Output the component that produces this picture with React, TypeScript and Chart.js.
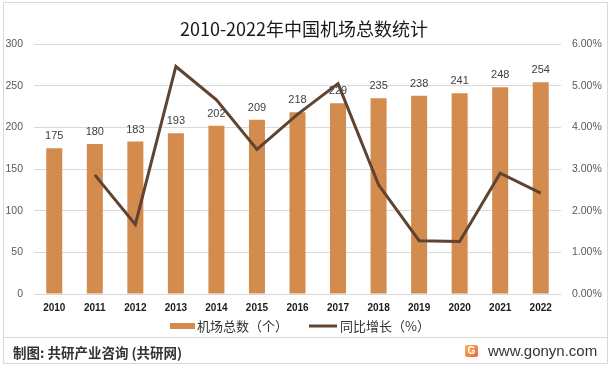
import { useEffect, useRef } from 'react';
import { Chart, registerables } from 'chart.js';

Chart.register(...registerables);

const titleText = '2010-2022年中国机场总数统计';
const categories = ['2010', '2011', '2012', '2013', '2014', '2015', '2016', '2017', '2018', '2019', '2020', '2021', '2022'];
const airportCounts = [175, 180, 183, 193, 202, 209, 218, 229, 235, 238, 241, 248, 254];
const growthRates = [null, 2.86, 1.67, 5.46, 4.66, 3.47, 4.31, 5.05, 2.62, 1.28, 1.26, 2.9, 2.42];
const seriesNames = ['机场总数（个）', '同比增长（%）'];
const sourceText = '制图: 共研产业咨询 (共研网)';
const siteText = 'www.gonyn.com';

const BAR_COLOR = '#D38B4E';
const LINE_COLOR = '#5E4431';
const GRID_COLOR = '#D9D9D9';
const CJK = '"Noto Sans CJK SC", "Noto Sans", sans-serif';
const LAT = '"Liberation Sans", Arial, sans-serif';

const barLabels = {
  id: 'barLabels',
  afterDatasetDraw(chart: any, args: any) {
    if (args.index !== 0) return;
    const ctx = chart.ctx;
    const meta = chart.getDatasetMeta(0);
    ctx.save();
    ctx.font = `11px ${LAT}`;
    ctx.fillStyle = '#404040';
    ctx.textAlign = 'center';
    ctx.textBaseline = 'alphabetic';
    meta.data.forEach((el: any, i: number) => {
      ctx.fillText(String(airportCounts[i]), el.x, el.y - 9);
    });
    ctx.restore();
  },
};

const decor = {
  id: 'decor',
  beforeDraw(chart: any) {
    const ctx = chart.ctx;
    ctx.save();
    ctx.fillStyle = '#ffffff';
    ctx.fillRect(0, 0, chart.width, chart.height);
    ctx.restore();
  },
  afterDraw(chart: any) {
    const ctx = chart.ctx;
    ctx.save();
    // border + separator
    ctx.strokeStyle = GRID_COLOR;
    ctx.lineWidth = 1;
    ctx.strokeRect(3.5, 2.5, 604, 361);
    ctx.beginPath();
    ctx.moveTo(4, 337.5);
    ctx.lineTo(607, 337.5);
    ctx.stroke();

    // title
    ctx.fillStyle = '#1a1a1a';
    ctx.font = `18px ${CJK}`;
    ctx.textAlign = 'center';
    ctx.textBaseline = 'middle';
    ctx.fillText(titleText, 304, 29);

    // legend
    ctx.fillStyle = BAR_COLOR;
    ctx.fillRect(170, 323, 25, 6);
    ctx.fillStyle = '#333333';
    ctx.font = `13px ${CJK}`;
    ctx.textAlign = 'left';
    ctx.fillText(seriesNames[0], 197, 326);
    ctx.strokeStyle = LINE_COLOR;
    ctx.lineWidth = 3;
    ctx.beginPath();
    ctx.moveTo(309, 326);
    ctx.lineTo(337, 326);
    ctx.stroke();
    ctx.fillText(seriesNames[1], 340, 326);

    // footer
    ctx.fillStyle = '#333333';
    ctx.font = `bold 13.5px ${CJK}`;
    ctx.fillText(sourceText, 13, 353);

    // logo
    const g = ctx.createLinearGradient(465, 345, 478, 358);
    g.addColorStop(0, '#F9B25E');
    g.addColorStop(1, '#EE6436');
    ctx.fillStyle = g;
    ctx.beginPath();
    ctx.roundRect(465, 345, 13, 12, 2);
    ctx.fill();
    ctx.fillStyle = '#ffffff';
    ctx.font = `bold 10px ${LAT}`;
    ctx.textAlign = 'center';
    ctx.fillText('G', 471.5, 351.5);

    ctx.fillStyle = '#333333';
    ctx.font = `15px ${LAT}`;
    ctx.textAlign = 'left';
    ctx.fillText(siteText, 488, 352);
    ctx.restore();
  },
};

export default function App() {
  const ref = useRef<HTMLCanvasElement>(null);
  useEffect(() => {
    document.body.style.margin = '0';
    const chart = new Chart(ref.current as HTMLCanvasElement, {
      type: 'bar',
      data: {
        labels: categories,
        datasets: [
          {
            type: 'bar',
            label: seriesNames[0],
            data: airportCounts,
            backgroundColor: BAR_COLOR,
            barPercentage: 0.395,
            categoryPercentage: 1,
            yAxisID: 'y',
            order: 2,
          },
          {
            type: 'line',
            label: seriesNames[1],
            data: growthRates as any,
            borderColor: LINE_COLOR,
            borderWidth: 3,
            pointRadius: 0,
            tension: 0,
            spanGaps: false,
            yAxisID: 'y1',
            order: 1,
          } as any,
        ],
      },
      options: {
        responsive: false,
        devicePixelRatio: 1,
        animation: false,
        layout: { padding: { left: 0, right: 0, top: 44, bottom: 54 } },
        plugins: {
          legend: { display: false },
          title: { display: false },
          tooltip: { enabled: false },
        },
        scales: {
          x: {
            offset: true,
            grid: { display: false, drawTicks: false },
            border: { display: false },
            ticks: {
              font: { family: LAT, size: 10, weight: 'bold' },
              color: '#1a1a1a',
              padding: 8,
              maxRotation: 0,
              autoSkip: false,
            },
            afterFit: (axis: any) => {
              axis.height = 22;
            },
          },
          y: {
            position: 'left',
            min: 0,
            max: 300,
            ticks: {
              stepSize: 50,
              font: { family: LAT, size: 10.5 },
              color: '#595959',
              padding: 11,
            },
            grid: { color: GRID_COLOR, drawTicks: false, lineWidth: 1 },
            border: { display: false },
            afterFit: (axis: any) => {
              axis.width = 34;
            },
          },
          y1: {
            position: 'right',
            min: 0,
            max: 6,
            ticks: {
              stepSize: 1,
              font: { family: LAT, size: 10.5 },
              color: '#595959',
              padding: 11,
              callback: (v: any) => Number(v).toFixed(2) + '%',
            },
            grid: { drawOnChartArea: false, drawTicks: false },
            border: { display: false },
            afterFit: (axis: any) => {
              axis.width = 51;
            },
          },
        },
      } as any,
      plugins: [decor, barLabels],
    });
    return () => chart.destroy();
  }, []);
  return <canvas ref={ref} width={612} height={370} style={{ display: 'block', width: 612, height: 370 }} />;
}
